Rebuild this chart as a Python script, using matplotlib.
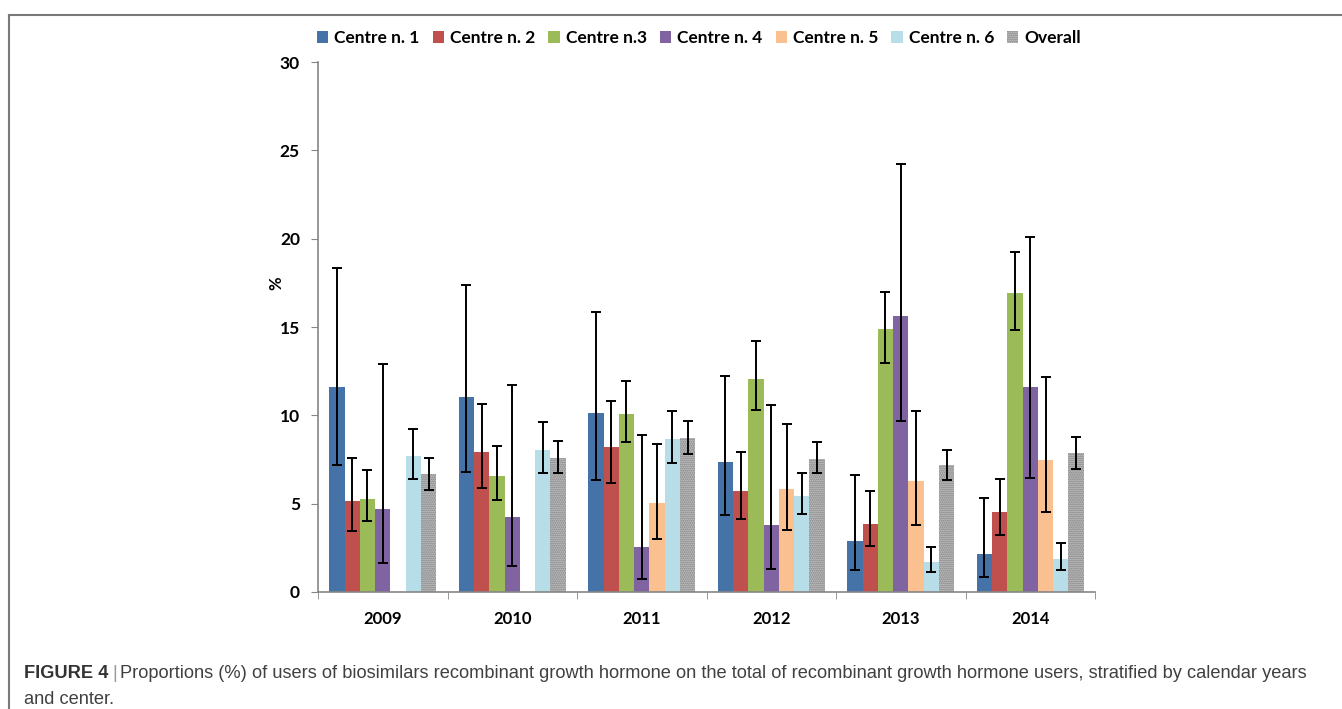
import numpy as np
import matplotlib
matplotlib.use("Agg")
import matplotlib.pyplot as plt
from matplotlib.lines import Line2D

years = ["2009", "2010", "2011", "2012", "2013", "2014"]
series = ["Centre n. 1", "Centre n. 2", "Centre n.3", "Centre n. 4",
          "Centre n. 5", "Centre n. 6", "Overall"]

nan = np.nan
# percentage per centre and year, with lower / upper confidence limits
c1 = [11.62, 11.02, 10.11, 7.38, 2.87, 2.13]
c1_lo = [7.19, 6.79, 6.32, 4.38, 1.25, 0.85]
c1_hi = [18.32, 17.40, 15.83, 12.23, 6.60, 5.34]

c2 = [5.15, 7.91, 8.19, 5.72, 3.85, 4.53]
c2_lo = [3.47, 5.87, 6.19, 4.13, 2.60, 3.21]
c2_hi = [7.60, 10.64, 10.83, 7.91, 5.74, 6.40]

c3 = [5.25, 6.59, 10.06, 12.08, 14.87, 16.94]
c3_lo = [4.00, 5.23, 8.47, 10.28, 12.94, 14.85]
c3_hi = [6.89, 8.27, 11.96, 14.19, 16.98, 19.23]

c4 = [4.70, 4.23, 2.57, 3.81, 15.62, 11.62]
c4_lo = [1.62, 1.47, 0.72, 1.30, 9.70, 6.43]
c4_hi = [12.90, 11.72, 8.89, 10.57, 24.21, 20.09]

c5 = [nan, nan, 5.02, 5.81, 6.28, 7.49]
c5_lo = [nan, nan, 2.98, 3.51, 3.77, 4.53]
c5_hi = [nan, nan, 8.40, 9.51, 10.26, 12.17]

c6 = [7.70, 8.06, 8.64, 5.45, 1.68, 1.89]
c6_lo = [6.40, 6.76, 7.32, 4.40, 1.13, 1.26]
c6_hi = [9.25, 9.60, 10.23, 6.75, 2.57, 2.79]

overall = [6.66, 7.57, 8.70, 7.53, 7.17, 7.87]
overall_lo = [5.79, 6.74, 7.83, 6.74, 6.36, 6.98]
overall_hi = [7.60, 8.57, 9.68, 8.47, 8.04, 8.77]

values = [c1, c2, c3, c4, c5, c6, overall]
lows = [c1_lo, c2_lo, c3_lo, c4_lo, c5_lo, c6_lo, overall_lo]
highs = [c1_hi, c2_hi, c3_hi, c4_hi, c5_hi, c6_hi, overall_hi]

colors = ["#4572A7", "#C0504D", "#9BBB59", "#8064A2",
          "#FAC090", "#B7DEE8", "#C4C4C4"]
hatch_edge = "#7a7a7a"
hatch_pat = "........"

plt.rcParams["font.family"] = ["Lato", "DejaVu Sans"]
plt.rcParams["hatch.linewidth"] = 0.9

W, H = 1342, 709
fig = plt.figure(figsize=(W / 100, H / 100), dpi=100)
ax = fig.add_axes([318 / W, 117 / H, 777 / W, 530 / H])

x = np.arange(len(years))
width = 0.118
axis_grey = "#868686"

for j, (name, v, lo, hi, col) in enumerate(zip(series, values, lows, highs, colors)):
    v = np.asarray(v, float)
    lo = np.asarray(lo, float)
    hi = np.asarray(hi, float)
    pos = x + (j - 3) * width
    kw = dict(color=col, linewidth=0)
    if name == "Overall":
        kw = dict(facecolor=col, edgecolor=hatch_edge, hatch=hatch_pat, linewidth=0)
    ax.bar(pos, v, width=width, label=name, zorder=2, **kw)
    ok = ~np.isnan(v)
    ax.errorbar(pos[ok], v[ok], yerr=[v[ok] - lo[ok], hi[ok] - v[ok]],
                fmt="none", ecolor="black", elinewidth=1.4, capsize=3.8,
                capthick=1.4, zorder=3)

ax.set_xlim(-0.5, len(years) - 0.5)
ax.set_ylim(0, 30)
ax.set_yticks(np.arange(0, 31, 5))
ax.set_xticks(x)
ax.set_xticklabels(years)
ax.set_xticks(np.arange(-0.5, len(years)), minor=True)
ax.tick_params(axis="x", which="major", length=0, pad=14, labelsize=12)
ax.tick_params(axis="x", which="minor", length=5, color=axis_grey, direction="out")
ax.tick_params(axis="y", length=5, color=axis_grey, direction="out", pad=8, labelsize=12.5)
for lab in ax.get_xticklabels() + ax.get_yticklabels():
    lab.set_fontweight("bold")
for s in ["top", "right"]:
    ax.spines[s].set_visible(False)
for s in ["left", "bottom"]:
    ax.spines[s].set_color(axis_grey)
    ax.spines[s].set_linewidth(1.2)
ax.set_ylabel("%", fontsize=12, fontweight="bold")
ax.yaxis.set_label_coords(-0.043, (592 - 283) / 530)

handles = [plt.Rectangle((0, 0), 1, 1, facecolor=c,
                         edgecolor=hatch_edge if n == "Overall" else c,
                         hatch=hatch_pat if n == "Overall" else None, linewidth=0)
           for n, c in zip(series, colors)]
leg = fig.legend(handles, series, loc="center", bbox_to_anchor=(699 / W, 1 - 38 / H),
                 ncol=7, frameon=False, handlelength=0.65, handleheight=0.65,
                 handletextpad=0.35, columnspacing=0.75,
                 prop={"family": ["Lato", "DejaVu Sans"], "weight": "bold", "size": 12.5})

# page frame lines
fig.add_artist(Line2D([9 / W, 1], [1 - 14.5 / H, 1 - 14.5 / H], color="#7a7a7a", lw=1.5))
fig.add_artist(Line2D([9 / W, 9 / W], [0, 1 - 14.5 / H], color="#7a7a7a", lw=1.5))

# caption
cap_font = ["Liberation Sans", "DejaVu Sans"]
cap_size = 13.15
renderer = fig.canvas.get_renderer()
y1 = 1 - 678 / H
t1 = fig.text(24 / W, y1, "FIGURE 4", fontsize=cap_size, fontweight="bold",
              family=cap_font, color="#333333", va="baseline")
bb = t1.get_window_extent(renderer)
t2 = fig.text((bb.x1 + 4) / W, y1, "|", fontsize=cap_size, family=cap_font,
              color="#999999", va="baseline")
bb2 = t2.get_window_extent(renderer)
fig.text((bb2.x1 + 3) / W, y1,
         "Proportions (%) of users of biosimilars recombinant growth hormone on the total "
         "of recombinant growth hormone users, stratified by calendar years",
         fontsize=cap_size, family=cap_font, color="#404040", va="baseline")
fig.text(24 / W, 1 - 704 / H, "and center.", fontsize=cap_size, family=cap_font,
         color="#404040", va="baseline")

fig.savefig("out.png", dpi=100)
